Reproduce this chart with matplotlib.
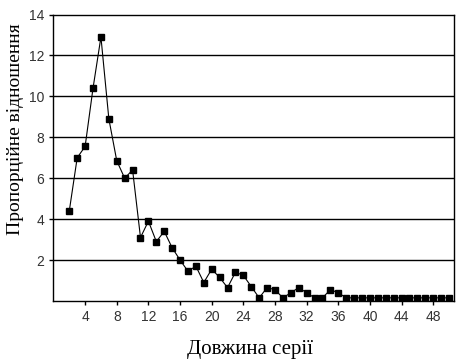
import matplotlib
matplotlib.use("Agg")
import matplotlib.pyplot as plt
import numpy as np

# series length vs proportional ratio
lengths = list(range(2, 51))
ratios = [4.4, 7.0, 7.55, 10.4, 12.9, 8.9, 6.85, 6.0, 6.4,
          3.1, 3.9, 2.9, 3.4, 2.6, 2.0, 1.45, 1.7, 0.9, 1.55,
          1.15, 0.65, 1.4, 1.25, 0.7, 0.15, 0.65, 0.55, 0.15, 0.4,
          0.65, 0.4, 0.15, 0.15, 0.55, 0.4,
          0.15, 0.15, 0.15, 0.15, 0.15, 0.15, 0.15, 0.15, 0.15,
          0.15, 0.15, 0.15, 0.15, 0.15]
xticks = list(range(4, 49, 4))
yticks = list(range(2, 15, 2))

tick_font = ['Liberation Sans Narrow', 'Liberation Sans', 'DejaVu Sans']
label_font = ['Liberation Serif', 'DejaVu Serif']

fig = plt.figure(figsize=(4.57, 3.63), dpi=100)
ax = fig.add_axes([0.117, 0.171, 0.876, 0.789])

# horizontal grid lines
for v in yticks[:-1]:
    ax.axhline(v, color='black', lw=1.0, zorder=1)

ax.plot(lengths, ratios, color='black', lw=0.8, marker='s', markersize=4.2,
        markerfacecolor='black', markeredgecolor='black', zorder=3)

ax.set_xlim(0, 50.6)
ax.set_ylim(0, 14)
ax.set_xticks(xticks)
ax.set_yticks(yticks)
ax.tick_params(direction='out', length=3, width=1, colors='black',
               labelcolor='#333333', labelsize=10)
for lab in ax.get_xticklabels() + ax.get_yticklabels():
    lab.set_family(tick_font)
for s in ax.spines.values():
    s.set_linewidth(1.0)

ax.set_xlabel('Довжина серії', family=label_font, fontsize=15)
ax.set_ylabel('Пропорційне відношення', family=label_font, fontsize=14)
ax.xaxis.set_label_coords(0.49, -0.135)
ax.yaxis.set_label_coords(-0.074, 0.6)

fig.savefig('out.png', dpi=100)
